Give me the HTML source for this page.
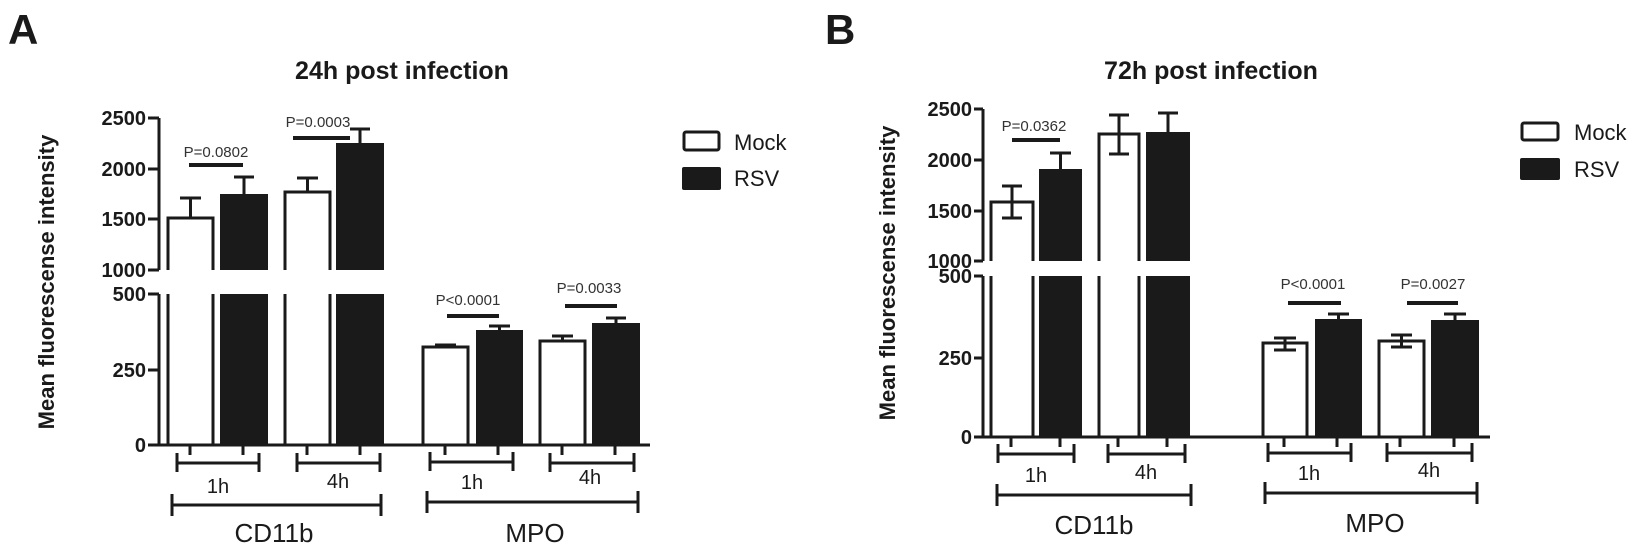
<!DOCTYPE html>
<html><head><meta charset="utf-8"><style>
html,body{margin:0;padding:0;background:#fff;}
svg{display:block;}
text{font-family:"Liberation Sans",Arial,sans-serif;fill:#1a1a1a;}
.t{font-size:20px;font-weight:bold;text-anchor:end;}
.p{font-size:15px;text-anchor:middle;fill:#333;}
.h{font-size:20px;text-anchor:middle;}
.g{font-size:26px;text-anchor:middle;}
.lg{font-size:22px;}
.ti{font-size:25px;font-weight:bold;text-anchor:middle;}
.yl{font-size:22px;font-weight:bold;text-anchor:middle;}
.L{font-size:42px;font-weight:bold;}
</style></head><body>
<svg width="1650" height="550" viewBox="0 0 1650 550" xmlns="http://www.w3.org/2000/svg">
<g stroke="#1a1a1a" stroke-width="3" fill="none" stroke-linecap="butt">
<path d="M159,118V270 M148,118H159 M148,169H159 M148,219H159 M148,270H159"/>
<path d="M159,294V445 M148,294H159 M148,370H159 M148,445H650"/>
<path d="M168,270V218H213V270 M168,294V445 M213,294V445"/>
<path d="M285,270V192H330V270 M285,294V445 M330,294V445"/>
<path d="M423,445V347H468V445"/>
<path d="M540,445V341H585V445"/>
<path d="M190.5,218V198 M180,198H201"/>
<path d="M244,194V177 M234,177H254"/>
<path d="M307.5,192V178 M297,178H318"/>
<path d="M360,143V129 M350,129H370"/>
<path d="M445.5,347V345 M435,345H456"/>
<path d="M499.5,330V326 M489,326H510"/>
<path d="M562.5,341V336 M552,336H573"/>
<path d="M616,323V318 M606,318H626"/>
<path d="M190,445V455 M243,445V455 M307,445V455 M360,445V455 M445,445V455 M498,445V455 M562,445V455 M615,445V455"/>
<path d="M177,463H259 M177,453V472 M259,453V472"/>
<path d="M297,463H380 M297,453V472 M380,453V472"/>
<path d="M430,462H513 M430,452V471 M513,452V471"/>
<path d="M550,463H634 M550,453V472 M634,453V472"/>
<path d="M172,505H381 M172,494V516 M381,494V516"/>
<path d="M427,502H638 M427,491V513 M638,491V513"/>
<path stroke-width="4" d="M189,165H243 M293,138H350 M447,316H499 M565,306H617"/>
<path d="M983,109V261 M974,109H983 M974,160H983 M974,211H983 M974,261H983"/>
<path d="M983,276V437 M974,276H983 M974,358H983 M974,437H1490"/>
<path d="M991,261V202H1033V261 M991,276V437 M1033,276V437"/>
<path d="M1099,261V134H1139V261 M1099,276V437 M1139,276V437"/>
<path d="M1263,437V343H1307V437"/>
<path d="M1379,437V341H1424V437"/>
<path d="M1012,186V218 M1002,186H1022 M1002,218H1022"/>
<path d="M1060.5,169V153 M1050,153H1071"/>
<path d="M1119,115V154 M1109,115H1129 M1109,154H1129"/>
<path d="M1168,132V113 M1158,113H1178"/>
<path d="M1285,338V350 M1274,338H1296 M1274,350H1296"/>
<path d="M1338.5,319V314 M1328,314H1349"/>
<path d="M1401.5,335V347 M1391,335H1412 M1391,347H1412"/>
<path d="M1455,320V314 M1444,314H1466"/>
<path d="M1011,437V447 M1060,437V447 M1118,437V447 M1167,437V447 M1284,437V447 M1337,437V447 M1400,437V447 M1454,437V447"/>
<path d="M998,454H1074 M998,444V463 M1074,444V463"/>
<path d="M1108,454H1185 M1108,444V463 M1185,444V463"/>
<path d="M1268,453H1351 M1268,443V462 M1351,443V462"/>
<path d="M1387,453H1472 M1387,443V462 M1472,443V462"/>
<path d="M997,495H1191 M997,484V506 M1191,484V506"/>
<path d="M1265,493H1477 M1265,482V504 M1477,482V504"/>
<path stroke-width="4" d="M1012,140H1060 M1288,303H1341 M1407,303H1458"/>
<rect x="684" y="132" width="35" height="18" rx="2"/>
<rect x="1522" y="123" width="36" height="17" rx="2"/>
</g>
<g fill="#1a1a1a">
<rect x="220" y="194" width="48" height="76"/><rect x="220" y="294" width="48" height="152"/>
<rect x="336" y="143" width="48" height="127"/><rect x="336" y="294" width="48" height="152"/>
<rect x="476" y="330" width="47" height="116"/>
<rect x="592" y="323" width="48" height="123"/>
<rect x="1039" y="169" width="43" height="92"/><rect x="1039" y="276" width="43" height="162"/>
<rect x="1146" y="132" width="44" height="129"/><rect x="1146" y="276" width="44" height="162"/>
<rect x="1315" y="319" width="47" height="119"/>
<rect x="1431" y="320" width="48" height="118"/>
<rect x="682" y="167" width="39" height="23" rx="2"/>
<rect x="1520" y="158" width="40" height="22" rx="2"/>
</g>
<text class="L" x="8" y="44">A</text>
<text class="ti" x="402" y="79">24h post infection</text>
<text class="yl" transform="translate(54,282) rotate(-90)">Mean fluorescense intensity</text>
<text class="t" x="146" y="125">2500</text><text class="t" x="146" y="176">2000</text>
<text class="t" x="146" y="226">1500</text><text class="t" x="146" y="277">1000</text>
<text class="t" x="146" y="301">500</text><text class="t" x="146" y="377">250</text>
<text class="t" x="146" y="452">0</text>
<text class="p" x="216" y="157">P=0.0802</text>
<text class="p" x="318" y="127">P=0.0003</text>
<text class="p" x="468" y="305">P&lt;0.0001</text>
<text class="p" x="589" y="293">P=0.0033</text>
<text class="h" x="218" y="493">1h</text><text class="h" x="338" y="488">4h</text>
<text class="h" x="472" y="489">1h</text><text class="h" x="590" y="484">4h</text>
<text class="g" x="274" y="542">CD11b</text><text class="g" x="535" y="542">MPO</text>
<text class="lg" x="734" y="150">Mock</text><text class="lg" x="734" y="186">RSV</text>
<text class="L" x="825" y="44">B</text>
<text class="ti" x="1211" y="79">72h post infection</text>
<text class="yl" transform="translate(895,273) rotate(-90)">Mean fluorescense intensity</text>
<text class="t" x="972" y="116">2500</text><text class="t" x="972" y="167">2000</text>
<text class="t" x="972" y="218">1500</text><text class="t" x="972" y="268">1000</text>
<text class="t" x="972" y="283">500</text><text class="t" x="972" y="365">250</text>
<text class="t" x="972" y="444">0</text>
<text class="p" x="1034" y="131">P=0.0362</text>
<text class="p" x="1313" y="289">P&lt;0.0001</text>
<text class="p" x="1433" y="289">P=0.0027</text>
<text class="h" x="1036" y="482">1h</text><text class="h" x="1146" y="479">4h</text>
<text class="h" x="1309" y="480">1h</text><text class="h" x="1429" y="477">4h</text>
<text class="g" x="1094" y="534">CD11b</text><text class="g" x="1375" y="532">MPO</text>
<text class="lg" x="1574" y="140">Mock</text><text class="lg" x="1574" y="177">RSV</text>
</svg>
</body></html>
